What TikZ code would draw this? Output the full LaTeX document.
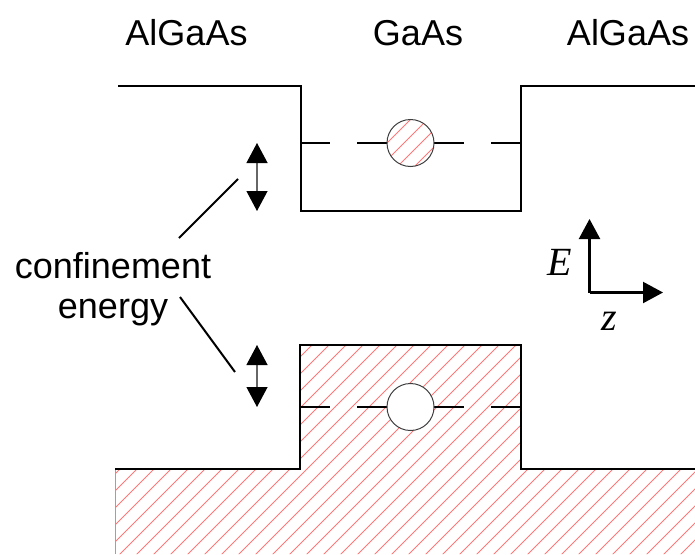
\documentclass[tikz,border=0pt]{standalone}
\usepackage{fontspec}
\setmainfont{Liberation Serif}
\newfontfamily\labelsans{Liberation Sans}
\usetikzlibrary{arrows.meta}
\definecolor{hatchred}{RGB}{255,120,120}
\tikzset{
  band/.style={line width=2.4pt, black, line join=miter},
  level/.style={line width=2.4pt, black},
  hatchline/.style={hatchred, line width=0.8pt},
  particle/.style={draw=black!75, line width=1pt},
  dblarrow/.style={black!60, line width=1.2pt, {Triangle[width=21pt,length=20pt,black]}-{Triangle[width=21pt,length=20pt,black]}, shorten <=0pt, shorten >=0pt},
  leader/.style={black, line width=2pt},
  axis/.style={black, line width=2.2pt, -{Triangle[width=21pt,length=20pt]}},
  sanslabel/.style={font=\labelsans\fontsize{36}{43}\selectfont, inner sep=0pt, anchor=base},
  mathlabel/.style={font=\fontsize{40}{48}\selectfont\itshape, inner sep=0pt, anchor=base}
}
\begin{document}
\begin{tikzpicture}[x=1pt,y=-1pt]
\useasboundingbox (0,0) rectangle (695,554);

% labels on top
\node[sanslabel] (lab1) at (186.5,45) {AlGaAs};
\node[sanslabel] (lab2) at (418,45) {GaAs};
\node[sanslabel] (lab3) at (628,45) {AlGaAs};

% valence band hatch
\begin{scope}
  \clip (115,469) -- (300,469) -- (300,345) -- (521,345) -- (521,469) -- (695,469) -- (695,554) -- (115,554) -- cycle;
  \foreach \a in {0,17,...,1400} \draw[hatchline] (\a-600,560) -- ++(620,-620);
\end{scope}
\draw[hatchline] (115,469) -- (115,554);

% conduction band
\draw[band] (118,86) -- (301,86) -- (301,211) -- (521,211) -- (521,86) -- (695,86);
% valence band
\draw[band] (115,469) -- (300,469) -- (300,345) -- (521,345) -- (521,469) -- (695,469);

% conduction level
\draw[level] (301,143) -- (330,143);
\draw[level] (357,143) -- (387,143);
\draw[level] (434,143) -- (464,143);
\draw[level] (491,143) -- (521,143);
% electron (hatched)
\node[circle, minimum size=47pt, inner sep=0pt, fill=white] (el) at (410.5,143) {};
\begin{scope}
  \clip (410.5,143) circle (23.5);
  \foreach \a in {0,17,...,120} \draw[hatchline] (\a+330,200) -- ++(120,-120);
\end{scope}
\draw[particle] (410.5,143) circle (23.5);

% valence level
\draw[level] (300,407) -- (330,407);
\draw[level] (357,407) -- (387,407);
\draw[level] (434,407) -- (464,407);
\draw[level] (491,407) -- (521,407);
% hole
\node[circle, minimum size=47pt, inner sep=0pt, fill=white, particle] (hole) at (410.5,407) {};

% confinement arrows
\coordinate (ua) at (257,143);
\coordinate (ub) at (257,211);
\coordinate (la) at (257,345);
\coordinate (lb) at (257,407);
\draw[dblarrow] (ua) -- (ub);
\draw[dblarrow] (la) -- (lb);

% text
\node[sanslabel] (conf) at (113,278) {confinement};
\node[sanslabel] (ener) at (113,318) {energy};
\coordinate (l1a) at (179,238);
\coordinate (l1b) at (238,179);
\coordinate (l2a) at (180,297);
\coordinate (l2b) at (235,372);
\draw[leader] (l1a) -- (l1b);
\draw[leader] (l2a) -- (l2b);

% axes
\coordinate (orig) at (589.5,292.5);
\coordinate (etip) at (589.5,219);
\coordinate (ztip) at (663,292.5);
\draw[axis] (orig) -- (etip);
\draw[axis] (orig) -- (ztip);
\node[mathlabel] (E) at (560,275) {E};
\node[mathlabel] (z) at (609,330) {z};
\end{tikzpicture}
\end{document}
